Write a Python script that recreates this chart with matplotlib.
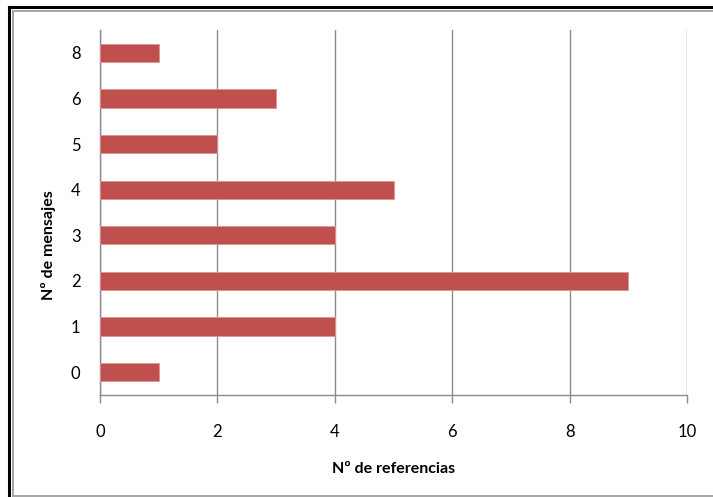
import numpy as np
import matplotlib.pyplot as plt
from matplotlib.lines import Line2D

plt.rcParams['font.family'] = ['Lato', 'DejaVu Sans']

mensajes = ['0', '1', '2', '3', '4', '5', '6', '8']
referencias = [1, 4, 9, 4, 5, 2, 3, 1]

W, H = 713, 497
fig = plt.figure(figsize=(W / 100, H / 100), dpi=100)
ax = fig.add_axes([100 / W, 1 - 395 / H, 587 / W, 365 / H])

ypos = np.arange(len(mensajes))
ax.barh(ypos, referencias, height=0.4, color='#C0504D',
        edgecolor='#D99694', linewidth=0.6, zorder=3)

ax.set_xlim(0, 10)
ax.set_ylim(-0.5, len(mensajes) - 0.5)
ax.set_xticks(np.arange(0, 11, 2))
ax.set_yticks(ypos)
ax.set_yticklabels(mensajes)

grid_c = '#8C8C8C'
ax.grid(axis='x', color=grid_c, linewidth=1.0, zorder=0)
for s in ['top', 'right']:
    ax.spines[s].set_visible(False)
ax.spines['left'].set_color(grid_c)
ax.spines['bottom'].set_color(grid_c)
ax.spines['left'].set_linewidth(1.0)
ax.spines['bottom'].set_linewidth(1.0)
ax.tick_params(axis='x', length=6, width=1.0, color=grid_c, pad=15,
               labelsize=12, labelcolor='black')
ax.tick_params(axis='y', length=0, pad=14, labelsize=12, labelcolor='black')

ax.set_xlabel('Nº de referencias', fontsize=11.5, fontweight='bold', labelpad=16)
fig.text(48 / W, 1 - 245 / H, 'Nº de mensajes', rotation=90, fontsize=11.5,
         fontweight='bold', ha='center', va='center')

# border around the chart area
def px_line(x0, y0, x1, y1, color, lw):
    fig.add_artist(Line2D([x0 / W, x1 / W], [1 - y0 / H, 1 - y1 / H],
                          transform=fig.transFigure, color=color, lw=lw))

px_line(9, 7, W, 7, 'black', 2.2)
px_line(9, 7, 9, H, 'black', 2.2)
px_line(12.5, 10.5, W, 10.5, '#A6A6A6', 1.4)
px_line(12.5, 10.5, 12.5, 495.5, '#A6A6A6', 1.4)
px_line(12.5, 495.5, W, 495.5, '#A6A6A6', 1.4)

fig.savefig('out.png', dpi=100)
